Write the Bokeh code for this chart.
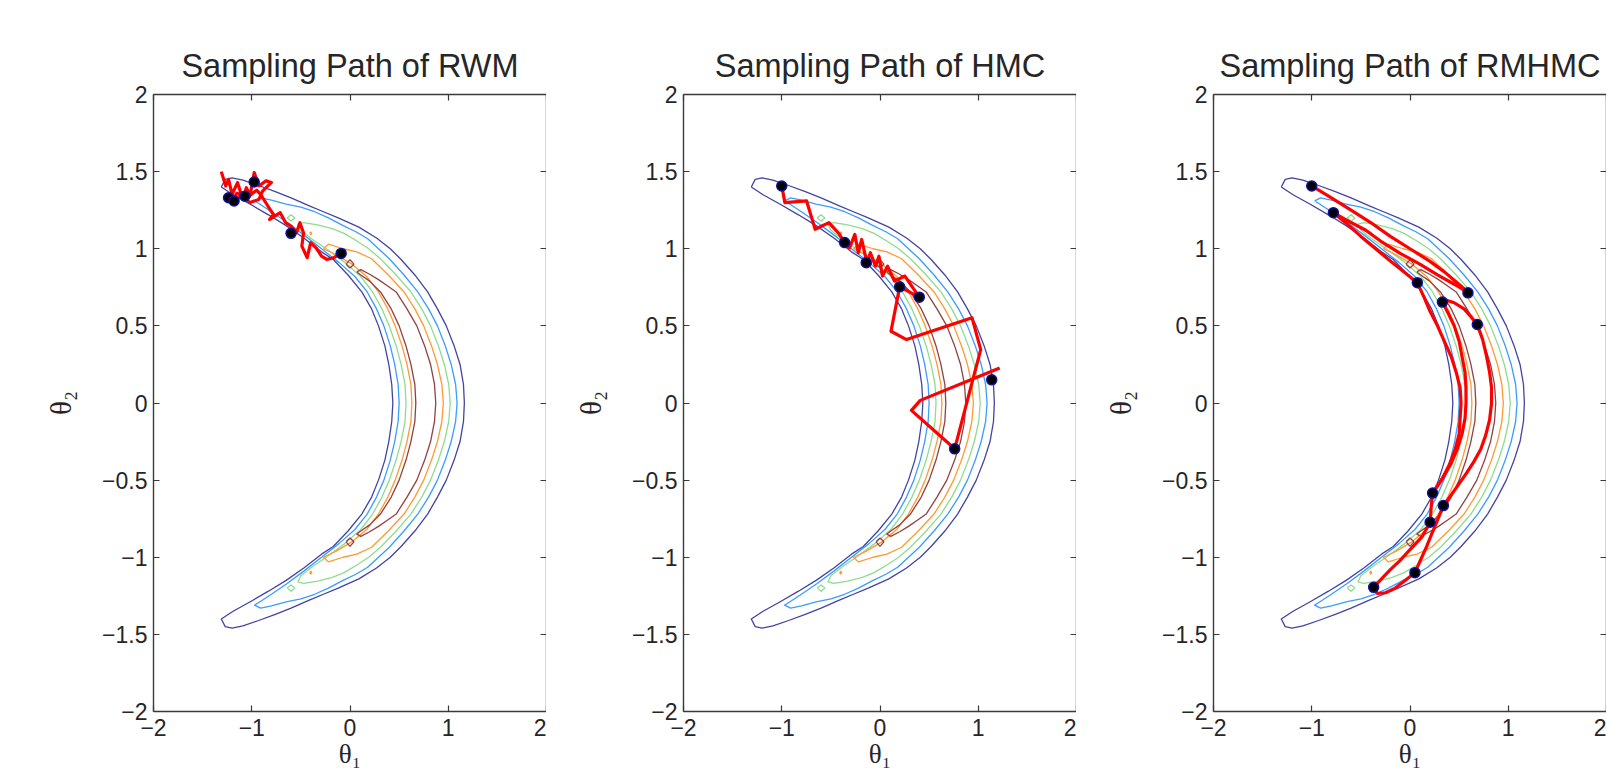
from bokeh.plotting import figure
from bokeh.layouts import row
from bokeh.models import Range1d, FixedTicker, LinearAxis
from bokeh.embed import file_html
from bokeh.resources import INLINE

# ---------------- text / ticks ----------------
titles = ["Sampling Path of RWM", "Sampling Path of HMC", "Sampling Path of RMHMC"]
x_ticks = [-2, -1, 0, 1, 2]
x_tick_labels = ["\u22122", "\u22121", "0", "1", "2"]
y_ticks = [-2, -1.5, -1, -0.5, 0, 0.5, 1, 1.5, 2]
y_tick_labels = ["\u22122", "\u22121.5", "\u22121", "\u22120.5", "0", "0.5", "1", "1.5", "2"]
x_label = "\u03b8\u2081"
y_label = "\u03b8\u2082"

# ---------------- density contours ----------------
contour_colors = ["#4343a3", "#3a9cff", "#8fdc8f", "#ff9933", "#934040"]

# level 1 (outermost, dark blue)
c1_x = [-1.31, -1.27, -1.20, -1.09, -0.93, -0.76, -0.60, -0.42, -0.27, -0.12, 0.09, 0.27, 0.41, 0.52,
        0.66, 0.79, 0.89, 0.98, 1.06, 1.12, 1.155, 1.164,
        1.155, 1.12, 1.06, 0.98, 0.89, 0.79, 0.66, 0.52, 0.41, 0.27, 0.09, -0.12, -0.27, -0.42, -0.60,
        -0.76, -0.93, -1.09, -1.20, -1.27, -1.31,
        -1.19, -1.02, -0.83, -0.65, -0.47, -0.29, -0.17, -0.02, 0.12, 0.22, 0.29, 0.355, 0.395, 0.425,
        0.436,
        0.425, 0.395, 0.355, 0.29, 0.22, 0.12, -0.02, -0.17, -0.29, -0.47, -0.65, -0.83, -1.02, -1.19,
        -1.31]
c1_y = [1.40, 1.45, 1.46, 1.445, 1.41, 1.37, 1.33, 1.28, 1.24, 1.20, 1.14, 1.07, 1.00, 0.93,
        0.83, 0.72, 0.61, 0.50, 0.37, 0.25, 0.12, 0.0,
        -0.12, -0.25, -0.37, -0.50, -0.61, -0.72, -0.83, -0.93, -1.00, -1.07, -1.14, -1.20, -1.24, -1.28,
        -1.33, -1.37, -1.41, -1.445, -1.46, -1.45, -1.40,
        -1.35, -1.29, -1.22, -1.15, -1.07, -0.98, -0.93, -0.83, -0.72, -0.61, -0.50, -0.37, -0.25, -0.12,
        0.0,
        0.12, 0.25, 0.37, 0.50, 0.61, 0.72, 0.83, 0.93, 0.98, 1.07, 1.15, 1.22, 1.29, 1.35,
        1.40]

# level 2 (light blue)
c2_x = [-0.97, -0.91, -0.80, -0.65, -0.50, -0.36, -0.22, -0.07, 0.06, 0.18, 0.29, 0.40, 0.55, 0.69,
        0.80, 0.89, 0.97, 1.03, 1.075, 1.09,
        1.075, 1.03, 0.97, 0.89, 0.80, 0.69, 0.55, 0.40, 0.29, 0.18, 0.06, -0.07, -0.22, -0.36, -0.50,
        -0.65, -0.80, -0.91, -0.97,
        -0.92, -0.80, -0.64, -0.47, -0.29, -0.11, 0.05, 0.175, 0.27, 0.345, 0.41, 0.455, 0.49, 0.50,
        0.49, 0.455, 0.41, 0.345, 0.27, 0.175, 0.05, -0.11, -0.29, -0.47, -0.64, -0.80, -0.92, -0.97]
c2_y = [1.31, 1.33, 1.315, 1.29, 1.27, 1.24, 1.20, 1.15, 1.11, 1.065, 1.00, 0.935, 0.83, 0.72,
        0.61, 0.50, 0.37, 0.25, 0.12, 0.0,
        -0.12, -0.25, -0.37, -0.50, -0.61, -0.72, -0.83, -0.935, -1.00, -1.065, -1.11, -1.15, -1.20,
        -1.24, -1.27, -1.29, -1.315, -1.33, -1.31,
        -1.29, -1.24, -1.17, -1.09, -1.00, -0.91, -0.82, -0.72, -0.61, -0.50, -0.37, -0.25, -0.12, 0.0,
        0.12, 0.25, 0.37, 0.50, 0.61, 0.72, 0.82, 0.91, 1.00, 1.09, 1.17, 1.24, 1.29, 1.31]

# level 3 (light green)
c3_x = [-0.53, -0.47, -0.33, -0.18, -0.06, 0.07, 0.19, 0.31, 0.47, 0.62, 0.73, 0.82, 0.90, 0.96,
        1.005, 1.02,
        1.005, 0.96, 0.90, 0.82, 0.73, 0.62, 0.47, 0.31, 0.19, 0.07, -0.06, -0.18, -0.33, -0.47, -0.53,
        -0.50, -0.38, -0.22, -0.05, 0.11, 0.23, 0.325, 0.40, 0.47, 0.52, 0.56, 0.57,
        0.56, 0.52, 0.47, 0.40, 0.325, 0.23, 0.11, -0.05, -0.22, -0.38, -0.50, -0.53]
c3_y = [1.16, 1.17, 1.155, 1.13, 1.10, 1.05, 1.00, 0.935, 0.83, 0.72, 0.61, 0.50, 0.37, 0.25,
        0.12, 0.0,
        -0.12, -0.25, -0.37, -0.50, -0.61, -0.72, -0.83, -0.935, -1.00, -1.05, -1.10, -1.13, -1.155,
        -1.17, -1.16,
        -1.12, -1.06, -0.99, -0.91, -0.82, -0.72, -0.61, -0.50, -0.37, -0.25, -0.12, 0.0,
        0.12, 0.25, 0.37, 0.50, 0.61, 0.72, 0.82, 0.91, 0.99, 1.06, 1.12, 1.16]

# level 4 (orange)
c4_x = [-0.27, -0.22, -0.07, 0.07, 0.22, 0.39, 0.55, 0.66, 0.75, 0.83, 0.89, 0.935, 0.95,
        0.935, 0.89, 0.83, 0.75, 0.66, 0.55, 0.39, 0.22, 0.07, -0.07, -0.22, -0.27,
        -0.14, 0.02, 0.17, 0.29, 0.385, 0.46, 0.53, 0.58, 0.62, 0.63,
        0.62, 0.58, 0.53, 0.46, 0.385, 0.29, 0.17, 0.02, -0.14, -0.27]
c4_y = [1.00, 1.03, 1.00, 0.98, 0.935, 0.83, 0.72, 0.61, 0.50, 0.37, 0.25, 0.12, 0.0,
        -0.12, -0.25, -0.37, -0.50, -0.61, -0.72, -0.83, -0.935, -0.98, -1.00, -1.03, -1.00,
        -0.96, -0.90, -0.82, -0.72, -0.61, -0.50, -0.37, -0.25, -0.12, 0.0,
        0.12, 0.25, 0.37, 0.50, 0.61, 0.72, 0.82, 0.90, 0.96, 1.00]

# level 5 (innermost, brown)
c5_x = [0.07, 0.11, 0.20, 0.29, 0.38, 0.47, 0.58, 0.68, 0.76, 0.82, 0.86, 0.873,
        0.86, 0.82, 0.76, 0.68, 0.58, 0.47, 0.38, 0.29, 0.20, 0.11, 0.07,
        0.11, 0.20, 0.31, 0.42, 0.50, 0.57, 0.62, 0.66, 0.67,
        0.66, 0.62, 0.57, 0.50, 0.42, 0.31, 0.20, 0.11, 0.07]
c5_y = [0.85, 0.865, 0.835, 0.80, 0.76, 0.72, 0.61, 0.50, 0.37, 0.25, 0.12, 0.0,
        -0.12, -0.25, -0.37, -0.50, -0.61, -0.72, -0.76, -0.80, -0.835, -0.865, -0.85,
        -0.83, -0.79, -0.72, -0.61, -0.50, -0.37, -0.25, -0.12, 0.0,
        0.12, 0.25, 0.37, 0.50, 0.61, 0.72, 0.79, 0.83, 0.85]

# small isolated contour islands: (level index, xs, ys)
isl_level = [2, 2, 3, 3, 4, 4]
isl_x = [[-0.64, -0.60, -0.56, -0.60, -0.64], [-0.64, -0.60, -0.56, -0.60, -0.64],
         [-0.41, -0.40, -0.39, -0.40, -0.41], [-0.41, -0.40, -0.39, -0.40, -0.41],
         [-0.04, 0.00, 0.04, 0.00, -0.04], [-0.04, 0.00, 0.04, 0.00, -0.04]]
isl_y = [[1.20, 1.22, 1.20, 1.18, 1.20], [-1.20, -1.18, -1.20, -1.22, -1.20],
         [1.10, 1.11, 1.10, 1.09, 1.10], [-1.10, -1.09, -1.10, -1.11, -1.10],
         [0.90, 0.93, 0.90, 0.875, 0.90], [-0.90, -0.875, -0.90, -0.93, -0.90]]

# ---------------- sampling paths ----------------
rwm_x = [-1.31, -1.265, -1.236, -1.2, -1.145, -1.09, -1.055, -1.018, -0.975, -0.927, -0.855, -0.80,
         -0.89, -0.927, -1.018, -1.10, -1.2, -1.15, -1.05, -0.95, -0.91, -0.836, -0.78, -0.818,
         -0.71, -0.655, -0.6, -0.545, -0.51, -0.473, -0.49, -0.436, -0.40, -0.345, -0.29, -0.236,
         -0.164, -0.09]
rwm_y = [1.50, 1.407, 1.45, 1.353, 1.429, 1.32, 1.396, 1.342, 1.494, 1.407, 1.44, 1.43,
         1.374, 1.32, 1.30, 1.34, 1.31, 1.36, 1.33, 1.38, 1.353, 1.277, 1.223, 1.19,
         1.234, 1.169, 1.147, 1.104, 1.169, 1.104, 1.017, 0.942, 1.039, 1.006, 0.952, 0.931,
         0.942, 0.97]
rwm_pts_x = [-1.236, -1.18, -1.07, -0.975, -0.6, -0.09]
rwm_pts_y = [1.331, 1.31, 1.34, 1.433, 1.10, 0.97]

hmc_x = [-1.0, -0.968, -0.747, -0.66, -0.52, -0.42, -0.36, -0.31, -0.256, -0.221, -0.186, -0.133,
         -0.098, -0.046, -0.011, 0.025, 0.077, 0.147, 0.253, 0.40, 0.2, 0.112, 0.27, 0.937, 1.025,
         0.76, 0.32, 0.41, 1.218]
hmc_y = [1.407, 1.299, 1.31, 1.126, 1.169, 1.10, 1.04, 1.006, 1.093, 0.974, 1.06, 0.909,
         0.974, 0.887, 0.952, 0.823, 0.887, 0.79, 0.823, 0.686, 0.753, 0.465, 0.411, 0.552, 0.346,
         -0.297, -0.048, 0.017, 0.227]
hmc_pts_x = [-1.0, -0.36, -0.14, 0.2, 0.40, 1.137, 0.76]
hmc_pts_y = [1.407, 1.04, 0.91, 0.753, 0.686, 0.15, -0.297]

rm_x = [[-1.0, -0.8, -0.6, -0.4, -0.2, 0.0, 0.2, 0.35, 0.48, 0.6],
        [-0.78, -0.6, -0.45, -0.3, -0.1, 0.1, 0.28, 0.45, 0.6],
        [-0.78, -0.62, -0.5, -0.35, -0.2, -0.06, 0.075],
        [0.075, 0.14, 0.2, 0.28, 0.35, 0.42, 0.47, 0.51, 0.52, 0.51, 0.50, 0.46, 0.40, 0.32, 0.23],
        [0.33, 0.39, 0.45, 0.50, 0.53, 0.56, 0.57, 0.57, 0.56, 0.53, 0.48, 0.42, 0.35, 0.23],
        [0.33, 0.38, 0.45, 0.55, 0.62, 0.685],
        [0.685, 0.74, 0.78, 0.81, 0.83, 0.83, 0.81, 0.77, 0.72, 0.65, 0.58, 0.46, 0.34],
        [0.34, 0.28, 0.22, 0.17, 0.12, 0.05],
        [0.23, 0.215, 0.205, 0.12, 0.0, -0.1, -0.2, -0.29, -0.37],
        [-0.37, -0.35, -0.33, -0.25, -0.15, -0.05, 0.05]]
rm_y = [[1.407, 1.33, 1.25, 1.17, 1.08, 1.0, 0.92, 0.85, 0.78, 0.714],
        [1.234, 1.17, 1.12, 1.05, 0.97, 0.90, 0.83, 0.77, 0.714],
        [1.234, 1.15, 1.08, 1.0, 0.92, 0.85, 0.78],
        [0.78, 0.69, 0.60, 0.50, 0.40, 0.30, 0.20, 0.10, 0.0, -0.10, -0.20, -0.30, -0.40, -0.50, -0.584],
        [0.654, 0.58, 0.50, 0.40, 0.30, 0.20, 0.10, 0.0, -0.10, -0.20, -0.30, -0.39, -0.47, -0.584],
        [0.654, 0.665, 0.65, 0.61, 0.56, 0.509],
        [0.509, 0.41, 0.30, 0.20, 0.10, 0.0, -0.11, -0.21, -0.30, -0.38, -0.45, -0.56, -0.665],
        [-0.665, -0.76, -0.85, -0.93, -1.0, -1.10],
        [-0.584, -0.68, -0.773, -0.87, -0.95, -1.02, -1.08, -1.14, -1.195],
        [-1.195, -1.22, -1.235, -1.23, -1.20, -1.15, -1.10]]
rm_pts_x = [-1.0, -0.78, 0.075, 0.33, 0.59, 0.685, 0.23, 0.34, 0.205, 0.05, -0.37]
rm_pts_y = [1.407, 1.234, 0.78, 0.654, 0.714, 0.509, -0.584, -0.665, -0.773, -1.10, -1.195]

contours_x = [c1_x, c2_x, c3_x, c4_x, c5_x]
contours_y = [c1_y, c2_y, c3_y, c4_y, c5_y]

AX_COL = "#3a3a3a"
TXT_COL = "#262626"
FONT = "Liberation Sans"
LABEL_FONT = "Liberation Serif"


def make_panel(title, width, left_border):
    p = figure(width=width, height=774, x_range=Range1d(-2, 2), y_range=Range1d(-2, 2),
               output_backend="svg", toolbar_location=None, title=title,
               min_border_left=left_border, min_border_right=0,
               min_border_top=94, min_border_bottom=63,
               background_fill_color="white", border_fill_color="white",
               outline_line_color=None)
    p.title.align = "center"
    p.title.text_font = FONT
    p.title.text_font_size = "32.5px"
    p.title.text_font_style = "normal"
    p.title.text_color = TXT_COL
    p.title.standoff = 22
    p.xgrid.visible = False
    p.ygrid.visible = False
    for ax, ticks, labels in ((p.xaxis[0], x_ticks, x_tick_labels), (p.yaxis[0], y_ticks, y_tick_labels)):
        ax.ticker = FixedTicker(ticks=ticks)
        ax.major_label_overrides = {t: l for t, l in zip(ticks, labels)}
        ax.major_tick_in = 6
        ax.major_tick_out = 0
        ax.minor_tick_in = 0
        ax.minor_tick_out = 0
        ax.axis_line_color = AX_COL
        ax.axis_line_width = 1.4
        ax.major_tick_line_color = AX_COL
        ax.major_tick_line_width = 1.2
        ax.major_label_text_font = FONT
        ax.major_label_text_font_size = "23px"
        ax.major_label_text_color = TXT_COL
        ax.axis_label_text_font = LABEL_FONT
        ax.axis_label_text_font_size = "29px"
        ax.axis_label_text_font_style = "normal"
        ax.axis_label_text_color = TXT_COL
    p.xaxis[0].major_label_standoff = 7
    p.yaxis[0].major_label_standoff = 6
    p.xaxis[0].axis_label = x_label
    p.yaxis[0].axis_label = y_label
    p.xaxis[0].axis_label_text_font_size = "27px"
    p.xaxis[0].axis_label_standoff = 0
    p.yaxis[0].axis_label_standoff = 22
    # box ticks on the top and right sides (no labels)
    for side, ticks in (("above", x_ticks), ("right", y_ticks)):
        ax = LinearAxis(ticker=FixedTicker(ticks=ticks), major_label_text_alpha=0,
                        major_label_text_color=None,
                        major_label_standoff=0, major_tick_in=6, major_tick_out=0,
                        minor_tick_in=0, minor_tick_out=0, axis_line_color=AX_COL,
                        axis_line_width=1.4, major_tick_line_color=AX_COL,
                        major_tick_line_width=1.2)
        p.add_layout(ax, side)

    for k in range(len(contours_x)):
        p.line(contours_x[k], contours_y[k], line_color=contour_colors[k], line_width=1.3,
               line_join="round")
    for lev, xs, ys in zip(isl_level, isl_x, isl_y):
        p.line(xs, ys, line_color=contour_colors[lev], line_width=1.3)
    return p


def add_points(p, xs, ys):
    p.scatter(xs, ys, size=10, fill_color="#000000", line_color="#1010a0", line_width=1.5)


p1 = make_panel(titles[0], 546, 153)
p1.line(rwm_x, rwm_y, line_color="#ff0000", line_width=3.2, line_join="round")
add_points(p1, rwm_pts_x, rwm_pts_y)

p2 = make_panel(titles[1], 530, 137)
p2.line(hmc_x, hmc_y, line_color="#ff0000", line_width=3.2, line_join="round")
add_points(p2, hmc_pts_x, hmc_pts_y)

p3 = make_panel(titles[2], 530, 137)
p3.multi_line(rm_x, rm_y, line_color="#ff0000", line_width=3.2, line_join="round")
add_points(p3, rm_pts_x, rm_pts_y)

layout = row(p1, p2, p3)
open("out.html", "w").write(file_html(layout, INLINE))
